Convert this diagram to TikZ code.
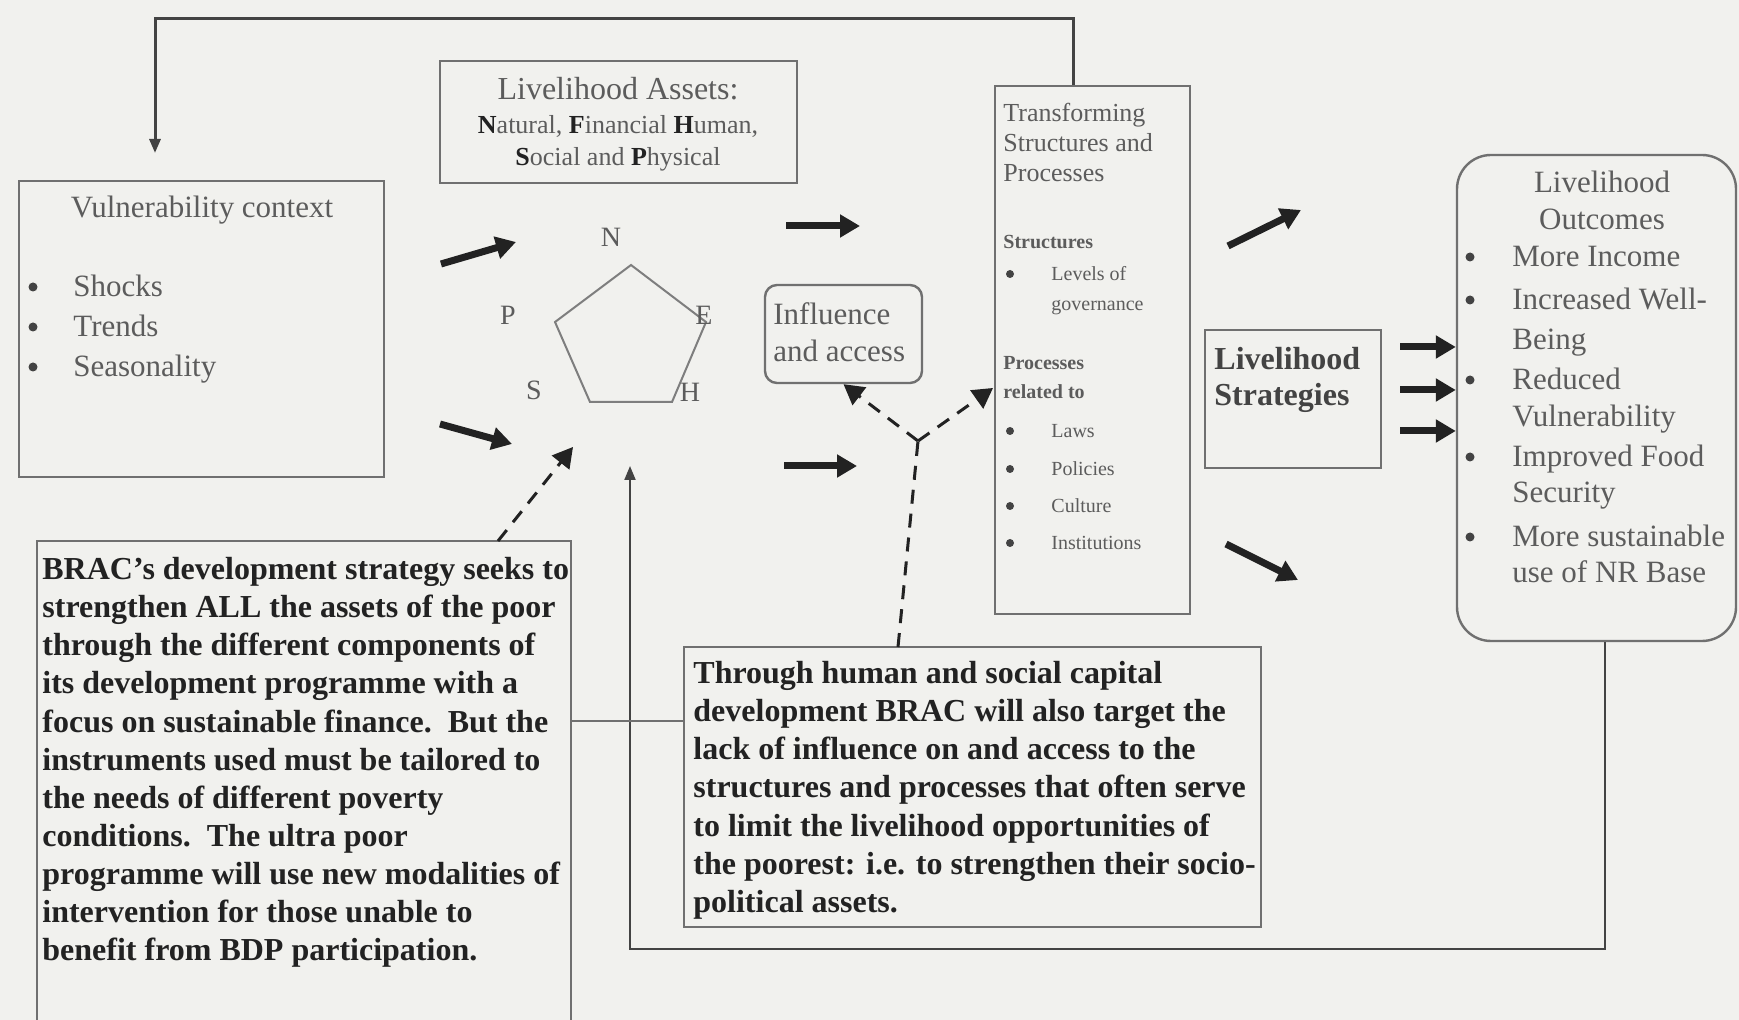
\documentclass[tikz,border=0pt]{standalone}
\usepackage{fontspec}
\setmainfont{Liberation Serif}
\usetikzlibrary{arrows.meta,calc}
\definecolor{paper}{RGB}{241,241,238}
\definecolor{frame}{RGB}{112,112,112}
\definecolor{soft}{RGB}{92,92,92}
\definecolor{ink}{RGB}{34,34,34}
\newcommand\bini[1]{{\bfseries\color{ink}#1}}
\begin{document}
\begin{tikzpicture}[x=0.5pt,y=-0.5pt,
  box/.style={draw=frame, line width=1.2pt, inner sep=0pt},
  txt/.style={inner sep=0pt, text=soft},
  f155/.style={font=\fontsize{15.5}{19.75}\selectfont},
  f13/.style={font=\fontsize{13}{15}\selectfont},
  f10/.style={font=\fontsize{10}{12}\selectfont},
  bul/.style={circle, fill=ink!85, inner sep=0pt, minimum size=4.5pt},
  smallbul/.style={circle, fill=ink!85, inner sep=0pt, minimum size=4pt},
  bigarrow/.style={line width=3.5pt, ink, -{Triangle[length=10pt,width=11pt]}},
  dashline/.style={line width=1.5pt, ink, dash pattern=on 7pt off 5pt},
  dasharrow/.style={dashline, -{Triangle[length=10pt,width=11pt]}},
  loopline/.style={line width=#1, ink!85, -{Triangle[length=7pt,width=5.5pt]}},
]
\useasboundingbox (0,0) rectangle (1739,1020);
\clip (0,0) rectangle (1739,1020);
\fill[paper] (0,0) rectangle (1739,1020);

% ---------- boxes ----------
\node[box, minimum width=182.5pt, minimum height=148pt] (vuln) at (201.5,329) {};
\node[box, minimum width=178.5pt, minimum height=61pt] (assets) at (618.5,122) {};
\node[box, minimum width=97.5pt, minimum height=264pt] (trans) at (1092.5,350) {};
\node[box, rounded corners=6pt, minimum width=78.5pt, minimum height=49pt] (infl) at (843.5,334) {};
\node[box, minimum width=88pt, minimum height=69pt] (strat) at (1293,399) {};
\node[box, rounded corners=17pt, minimum width=139.5pt, minimum height=243pt] (outc) at (1596.5,398) {};
\node[box, line width=0.9pt, minimum width=267pt, minimum height=249.5pt] (brac) at (304,790.5) {};
\node[box, line width=0.9pt, minimum width=288.5pt, minimum height=140pt] (thru) at (972.5,787) {};

% ---------- vulnerability context ----------
\node[txt, f155, anchor=base] (vtitle) at (202,218) {Vulnerability context};
\foreach \t/\y [count=\i] in {Shocks/287, Trends/327, Seasonality/367}{
  \node[bul] (vb\i) at (33,\y) {};
  \node[txt, f155, anchor=base west] (vi\i) at (73,\y+10) {\t};
}

% ---------- livelihood assets ----------
\node[txt, anchor=base, font=\fontsize{16}{19}\selectfont] (as1) at (618,100) {Livelihood Assets:};
\node[txt, f13, anchor=base] (as2) at (618,134) {\bini{N}atural, \bini{F}inancial \bini{H}uman,};
\node[txt, f13, anchor=base] (as3) at (618,166) {\bini{S}ocial and \bini{P}hysical};

% asset pentagon with its five letters
\draw[frame!90, line width=1pt] (631,265) -- (706,322) -- (672,402) -- (590,402) -- (555,322) -- cycle;
\foreach \l/\x/\y in {N/611/247, P/508/325, E/704/325, S/534/400, H/690/402}{
  \node[txt, anchor=base, font=\fontsize{14}{16}\selectfont] (pl\l) at (\x,\y) {\l};
}

% ---------- influence and access ----------
\node[txt, f155, anchor=base west] (if1) at (773,325) {Influence};
\node[txt, f155, anchor=base west] (if2) at (773,362) {and access};

% ---------- transforming structures and processes ----------
\node[txt, f13, anchor=base west] (tr1) at (1003,122) {Transforming};
\node[txt, f13, anchor=base west] (tr2) at (1003,152) {Structures and};
\node[txt, f13, anchor=base west] (tr3) at (1003,182) {Processes};
\node[txt, f13, anchor=base west, font=\bfseries] (tr4) at (1003,249) {Structures};
\node[smallbul] (tb0) at (1010,274) {};
\node[txt, f10, anchor=base west] (tl1) at (1051,281) {Levels of};
\node[txt, f10, anchor=base west] (tl2) at (1051,311) {governance};
\node[txt, f13, anchor=base west, font=\bfseries] (tr5) at (1003,370) {Processes};
\node[txt, f13, anchor=base west, font=\bfseries] (tr6) at (1003,399) {related to};
\foreach \t/\y [count=\i] in {Laws/431, Policies/469, Culture/506, Institutions/543}{
  \node[smallbul] (tb\i) at (1010,\y) {};
  \node[txt, f10, anchor=base west] (tp\i) at (1051,\y+7) {\t};
}

% ---------- livelihood strategies ----------
\node[txt, anchor=base west, text=ink!85, font=\bfseries\fontsize{16}{19}\selectfont] (st1) at (1214,370) {Livelihood};
\node[txt, anchor=base west, text=ink!85, font=\bfseries\fontsize{16}{19}\selectfont] (st2) at (1214,406) {Strategies};

% ---------- livelihood outcomes ----------
\node[txt, f155, anchor=base] (oc1) at (1602,193) {Livelihood};
\node[txt, f155, anchor=base] (oc2) at (1602,230) {Outcomes};
\foreach \t/\y/\b [count=\i] in {More Income/257/1, Increased Well-/300/1, Being/340/0,
    Reduced/380/1, Vulnerability/417/0, Improved Food/457/1, Security/493/0,
    More sustainable/537/1, use of NR Base/573/0}{
  \ifnum\b=1 \node[bul] (ob\i) at (1470,\y) {}; \fi
  \node[txt, f155, anchor=base west] (oi\i) at (1512,\y+10) {\t};
}

% ---------- BRAC notes ----------
\node[inner sep=0pt, anchor=north west, align=left, text=ink,
      font=\bfseries\fontsize{16}{19.05}\selectfont] (bractext) at (42,557)
 {BRAC's development strategy seeks to\\
  strengthen ALL the assets of the poor\\
  through the different components of\\
  its development programme with a\\
  focus on sustainable finance.\ \ But the\\
  instruments used must be tailored to\\
  the needs of different poverty\\
  conditions.\ \ The ultra poor\\
  programme will use new modalities of\\
  intervention for those unable to\\
  benefit from BDP participation.};
\node[inner sep=0pt, anchor=north west, align=left, text=ink,
      font=\bfseries\fontsize{16}{19.05}\selectfont] (thrutext) at (693,661)
 {Through human and social capital\\
  development BRAC will also target the\\
  lack of influence on and access to the\\
  structures and processes that often serve\\
  to limit the livelihood opportunities of\\
  the poorest: i.e. to strengthen their socio-\\
  political assets.};

% ---------- free ends of the connectors ----------
\coordinate (a1s) at (441,264);  \coordinate (a1e) at (516,242);
\coordinate (a2s) at (440,424);  \coordinate (a2e) at (512,444);
\coordinate (a3s) at (786,226);  \coordinate (a3e) at (860,226);
\coordinate (a4s) at (784,466);  \coordinate (a4e) at (857,466);
\coordinate (a5s) at (1228,246); \coordinate (a5e) at (1301,210);
\coordinate (a6s) at (1226,544); \coordinate (a6e) at (1298,580);
\coordinate (junc) at (918,441);
\coordinate (dv) at (898,647);
\coordinate (dta) at (993,388);
\coordinate (bs) at (498,541);
\coordinate (be) at (573,447);
\coordinate (ftop) at (155,153);
\coordinate (fbot) at (630,466);
\coordinate (c721) at (0,721);

% ---------- thick flow arrows ----------
\foreach \k in {1,...,6}{ \draw[bigarrow] (a\k s) -- (a\k e); }
\foreach \y [count=\i] in {347,390,431}{
  \coordinate (os\i) at (1400,\y);
  \draw[bigarrow] (os\i) -- (outc.west |- os\i);
}

% ---------- dashed influence arrows ----------
\draw[dashline] (dv) -- (junc);
\draw[dasharrow] (junc) -- (infl.south);
\draw[dasharrow] (junc) -- (dta);
\draw[dasharrow] (bs) -- (be);

% ---------- feedback loops ----------
\draw[loopline=1.5pt] ($(trans.north west)!0.405!(trans.north east)$) -- ++(0,-66) -| (ftop);
\draw[loopline=1pt] ($(outc.south)+(8.5,0)$) -- ++(0,307) -| (fbot);

% ---------- link between the two notes ----------
\draw[frame, line width=0.9pt] (brac.east |- c721) -- (thru.west |- c721);
\end{tikzpicture}
\end{document}
